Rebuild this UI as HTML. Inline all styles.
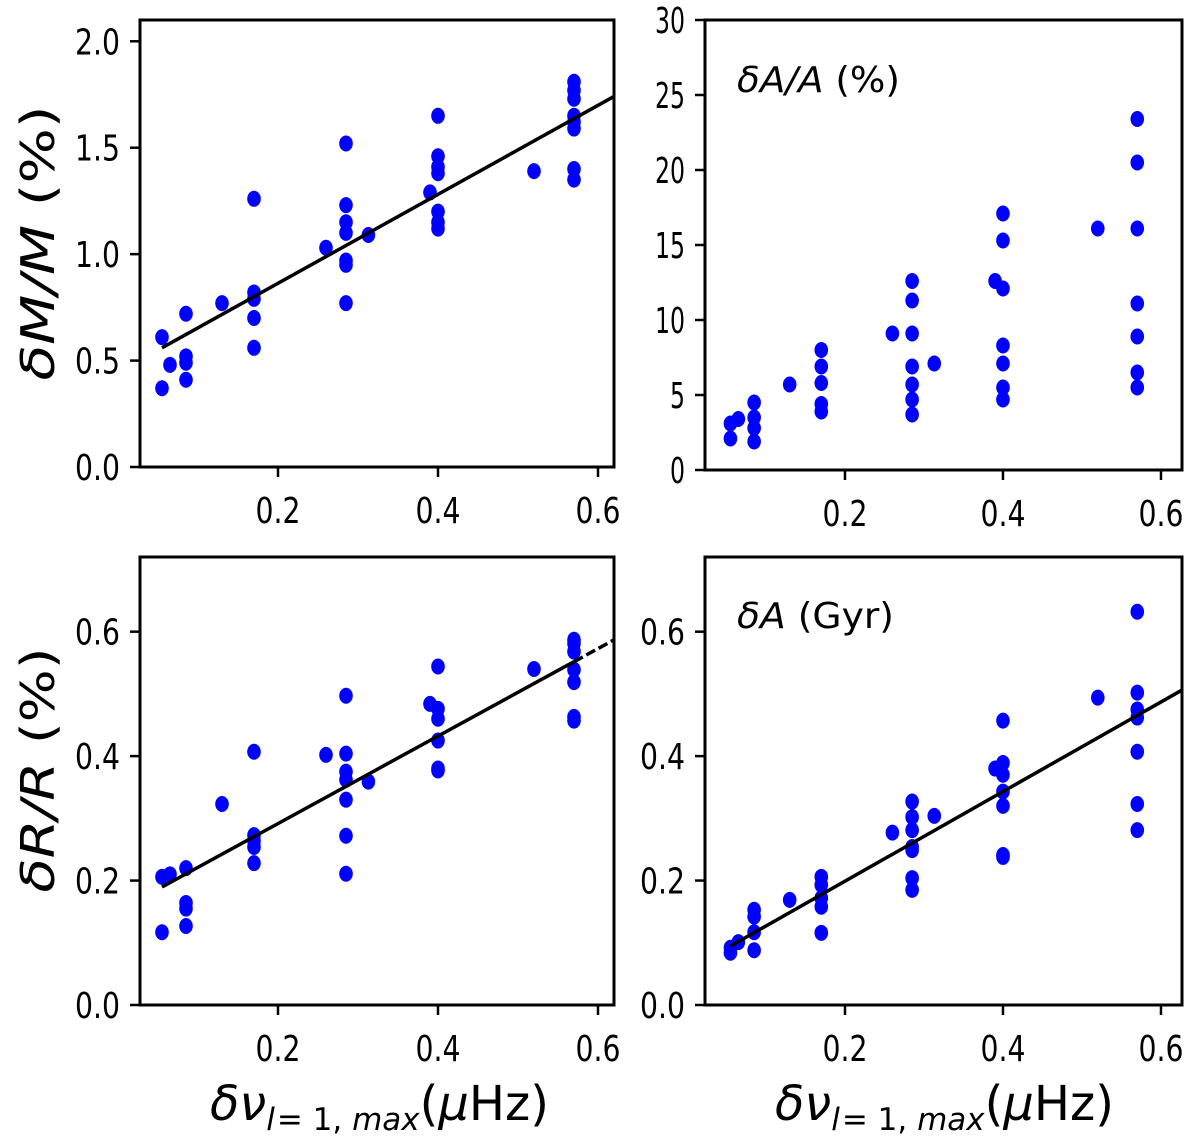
<!DOCTYPE html>
<html><head><meta charset="utf-8">
<style>
html,body{margin:0;padding:0;background:#fff;}
svg{display:block;}
text{font-family:"DejaVu Sans","Liberation Sans",sans-serif;fill:#000;}
</style></head>
<body>
<svg id="fig" width="1200" height="1146" viewBox="0 0 1200 1146" xmlns="http://www.w3.org/2000/svg"></svg>
<script>
// ---- data ----
const xCats = [0.055,0.065,0.085,0.13,0.17,0.26,0.285,0.313,0.39,0.4,0.52,0.57];
const massX = [0.055,0.055,0.065,0.085,0.085,0.085,0.085,0.13,0.17,0.17,0.17,0.17,0.17,0.26,0.285,0.285,0.285,0.285,0.285,0.285,0.285,0.313,0.39,0.4,0.4,0.4,0.4,0.4,0.4,0.4,0.52,0.57,0.57,0.57,0.57,0.57,0.57,0.57,0.57];
const massY = [0.61,0.37,0.48,0.72,0.52,0.49,0.41,0.77,1.26,0.82,0.79,0.70,0.56,1.03,1.52,1.23,1.15,1.10,0.97,0.95,0.77,1.09,1.29,1.65,1.46,1.41,1.38,1.20,1.15,1.12,1.39,1.81,1.77,1.73,1.65,1.62,1.59,1.40,1.35];
const massFit = [2.09,0.445];
const ageRelX = [0.055,0.055,0.065,0.085,0.085,0.085,0.085,0.13,0.17,0.17,0.17,0.17,0.17,0.26,0.285,0.285,0.285,0.285,0.285,0.285,0.285,0.313,0.39,0.4,0.4,0.4,0.4,0.4,0.4,0.4,0.52,0.57,0.57,0.57,0.57,0.57,0.57,0.57];
const ageRelY = [3.1,2.1,3.4,4.5,3.5,2.8,1.9,5.7,8.0,6.9,5.8,4.4,3.9,9.1,12.6,11.3,9.1,6.9,5.7,4.7,3.7,7.1,12.6,17.1,15.3,12.1,8.3,7.1,5.5,4.7,16.1,23.4,20.5,16.1,11.1,8.9,6.5,5.5];
const radX = [0.055,0.055,0.065,0.085,0.085,0.085,0.085,0.13,0.17,0.17,0.17,0.17,0.17,0.26,0.285,0.285,0.285,0.285,0.285,0.285,0.285,0.313,0.39,0.4,0.4,0.4,0.4,0.4,0.4,0.52,0.57,0.57,0.57,0.57,0.57,0.57,0.57];
const radY = [0.206,0.117,0.21,0.22,0.164,0.155,0.127,0.323,0.407,0.273,0.264,0.254,0.228,0.402,0.497,0.404,0.375,0.362,0.33,0.272,0.211,0.359,0.484,0.544,0.476,0.46,0.425,0.38,0.377,0.54,0.587,0.581,0.568,0.539,0.519,0.463,0.457];
const radFit = [0.703,0.151];
const ageX = [0.055,0.055,0.065,0.085,0.085,0.085,0.085,0.13,0.17,0.17,0.17,0.17,0.17,0.26,0.285,0.285,0.285,0.285,0.285,0.285,0.285,0.313,0.39,0.4,0.4,0.4,0.4,0.4,0.4,0.4,0.52,0.57,0.57,0.57,0.57,0.57,0.57,0.57];
const ageY = [0.084,0.092,0.101,0.153,0.142,0.117,0.088,0.169,0.206,0.193,0.172,0.158,0.116,0.277,0.327,0.302,0.281,0.254,0.249,0.204,0.185,0.304,0.38,0.457,0.389,0.37,0.343,0.32,0.241,0.238,0.494,0.632,0.502,0.475,0.462,0.407,0.323,0.281];
const ageFit = [0.72,0.055];
const xTicks = [0.2,0.4,0.6];
const xTickLabels = ["0.2","0.4","0.6"];
const massTicks = [0,0.5,1.0,1.5,2.0];
const massTickLabels = ["0.0","0.5","1.0","1.5","2.0"];
const ageRelTicks = [0,5,10,15,20,25,30];
const ageRelTickLabels = ["0","5","10","15","20","25","30"];
const radTicks = [0,0.2,0.4,0.6];
const radTickLabels = ["0.0","0.2","0.4","0.6"];

const NS="http://www.w3.org/2000/svg";
const svg=document.getElementById('fig');
function mk(tag,attrs,parent){const e=document.createElementNS(NS,tag);for(const k in attrs)e.setAttribute(k,attrs[k]);(parent||svg).appendChild(e);return e;}

function panel(cfg){
  const g=mk('g',{});
  
  
  const L=cfg.l,R=cfg.r,T=cfg.t,B=cfg.b;
  const sx=v=>L+(v-cfg.x0)/(cfg.x1-cfg.x0)*(R-L);
  const sy=v=>B-(v-cfg.y0)/(cfg.y1-cfg.y0)*(B-T);
  for(let i=0;i<cfg.xs.length;i++){
    const p=mk('ellipse',{cx:sx(cfg.xs[i]),cy:sy(cfg.ys[i]),rx:6.8,ry:8,fill:'#0000ff'},g);
    
    
  }
  if(cfg.fit){
    const f=v=>cfg.fit[0]*v+cfg.fit[1];
    const ln=mk('line',{x1:sx(0.055),y1:sy(f(0.055)),x2:sx(cfg.solidEnd),y2:sy(f(cfg.solidEnd)),stroke:'#000','stroke-width':3.5},g);
    
    
    if(cfg.solidEnd<cfg.x1){
      const d=mk('line',{x1:sx(cfg.solidEnd),y1:sy(f(cfg.solidEnd)),x2:sx(cfg.x1),y2:sy(f(cfg.x1)),stroke:'#000','stroke-width':3.5,'stroke-dasharray':'10,4'},g);
      
      
    }
  }
  const fr=mk('rect',{x:L,y:T,width:R-L,height:B-T,fill:'none',stroke:'#000','stroke-width':3},g);
  
  
  xTicks.forEach((v,i)=>{
    const x=sx(v);
    const t=mk('line',{x1:x,y1:B,x2:x,y2:B+10,stroke:'#000','stroke-width':2.5},g);
    
    
    const tx=mk('text',{x:x,y:B+56,'font-size':36,'text-anchor':'middle',textLength:45,lengthAdjust:'spacingAndGlyphs'},g);
    tx.textContent=xTickLabels[i];
    
    
  });
  cfg.yt.forEach((v,i)=>{
    const y=sy(v);
    const t=mk('line',{x1:L-10,y1:y,x2:L,y2:y,stroke:'#000','stroke-width':2.5},g);
    
    
    const lab=cfg.ytl[i];
    const tx=mk('text',{x:L-20,y:y+13,'font-size':36,'text-anchor':'end',textLength:lab.length*15,lengthAdjust:'spacingAndGlyphs'},g);
    tx.textContent=lab;
    
    
  });
}

panel({name:'mass-panel',l:140,r:614,t:20,b:467,x0:0.0275,x1:0.62,y0:0,y1:2.1,xs:massX,ys:massY,fit:massFit,solidEnd:0.62,yt:massTicks,ytl:massTickLabels});
panel({name:'relative-age-panel',l:705,r:1182,t:20,b:470,x0:0.0228,x1:0.6266,y0:0,y1:30,xs:ageRelX,ys:ageRelY,fit:null,yt:ageRelTicks,ytl:ageRelTickLabels});
panel({name:'radius-panel',l:140,r:614,t:557,b:1005,x0:0.0275,x1:0.62,y0:0,y1:0.72,xs:radX,ys:radY,fit:radFit,solidEnd:0.57,yt:radTicks,ytl:radTickLabels});
panel({name:'age-panel',l:705,r:1182,t:557,b:1005,x0:0.0228,x1:0.6266,y0:0,y1:0.72,xs:ageX,ys:ageY,fit:ageFit,solidEnd:0.6266,yt:radTicks,ytl:radTickLabels});
</script>
<svg width="1200" height="1146" style="position:absolute;left:0;top:0" xmlns="http://www.w3.org/2000/svg">
  <text transform="translate(54,243) rotate(-90)" text-anchor="middle" font-size="46" textLength="275" lengthAdjust="spacingAndGlyphs"><tspan font-style="italic">δM/M</tspan>   (%)</text>
  <text transform="translate(54,770) rotate(-90)" text-anchor="middle" font-size="46" textLength="245" lengthAdjust="spacingAndGlyphs"><tspan font-style="italic">δR/R</tspan>   (%)</text>
  <text x="737" y="92" font-size="36" textLength="163" lengthAdjust="spacingAndGlyphs"><tspan font-style="italic">δA/A</tspan>  (%)</text>
  <text x="737" y="628" font-size="36" textLength="157" lengthAdjust="spacingAndGlyphs"><tspan font-style="italic">δA</tspan>  (Gyr)</text>
  <text x="210" y="1120" font-size="48"><tspan font-style="italic">δν</tspan><tspan font-size="31" font-style="italic" dy="10">l</tspan><tspan font-size="31" dx="2">= 1,</tspan><tspan font-size="31" font-style="italic"> max</tspan><tspan dy="-10">(</tspan><tspan font-style="italic">μ</tspan><tspan>Hz)</tspan></text>
  <text x="775" y="1120" font-size="48"><tspan font-style="italic">δν</tspan><tspan font-size="31" font-style="italic" dy="10">l</tspan><tspan font-size="31" dx="2">= 1,</tspan><tspan font-size="31" font-style="italic"> max</tspan><tspan dy="-10">(</tspan><tspan font-style="italic">μ</tspan><tspan>Hz)</tspan></text>
</svg>
</body></html>
